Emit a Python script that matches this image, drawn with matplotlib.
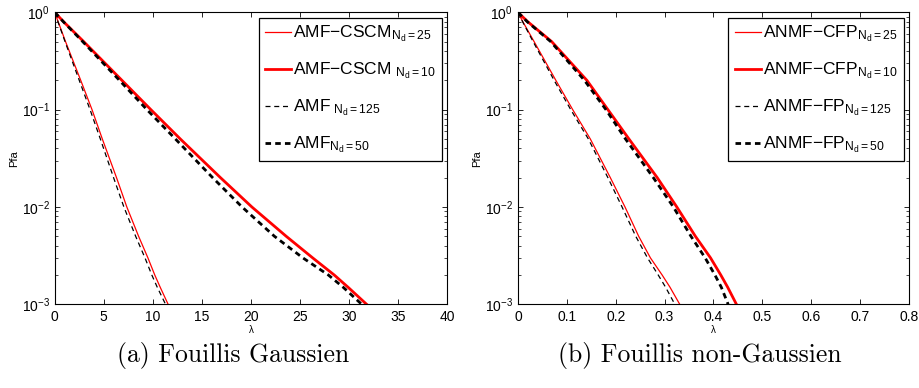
import matplotlib
matplotlib.use("Agg")
import matplotlib.pyplot as plt
import numpy as np

plt.rcParams['font.family'] = ['Liberation Sans', 'DejaVu Sans']
plt.rcParams['mathtext.fontset'] = 'custom'
plt.rcParams['mathtext.rm'] = 'Liberation Sans'
plt.rcParams['mathtext.it'] = 'Liberation Sans:italic'
plt.rcParams['mathtext.bf'] = 'Liberation Sans:bold'

pfa = [1.0, 0.8, 0.5, 0.2, 0.1, 0.05, 0.02, 0.01, 0.005, 0.003, 0.002, 0.0015, 0.001]

# (a) Gaussian clutter
lam_a_cscm25 = [0, 0.35, 1.1, 2.65, 3.8, 4.85, 6.3, 7.35, 8.55, 9.5, 10.2, 10.75, 11.56]
lam_a_cscm10 = [0, 0.9, 2.95, 6.85, 9.8, 12.8, 16.9, 20.1, 23.6, 26.3, 28.5, 29.9, 31.8]
lam_a_amf125 = [0, 0.33, 1.05, 2.5, 3.6, 4.65, 6.0, 7.05, 8.25, 9.2, 9.9, 10.45, 11.3]
lam_a_amf50 = [0, 0.88, 2.85, 6.6, 9.4, 12.3, 16.1, 19.1, 22.4, 25.3, 27.9, 29.4, 31.3]

# (b) non-Gaussian clutter
lam_b_cfp25 = [0, 0.01, 0.033, 0.0775, 0.112, 0.148, 0.189, 0.219, 0.247, 0.271, 0.295, 0.311, 0.331]
lam_b_cfp10 = [0, 0.02, 0.069, 0.141, 0.184, 0.227, 0.285, 0.325, 0.363, 0.394, 0.415, 0.429, 0.447]
lam_b_fp125 = [0, 0.0095, 0.031, 0.074, 0.108, 0.144, 0.184, 0.213, 0.241, 0.265, 0.287, 0.302, 0.321]
lam_b_fp50 = [0, 0.019, 0.067, 0.136, 0.180, 0.220, 0.277, 0.318, 0.354, 0.383, 0.403, 0.416, 0.430]

labels_a = ['AMF\u2212CSCM$_{\\mathregular{N_d=25}}$', 'AMF\u2212CSCM$\\;_{\\mathregular{N_d=10}}$',
            'AMF$\\;_{\\mathregular{N_d=125}}$', 'AMF$_{\\mathregular{N_d=50}}$']
labels_b = ['ANMF\u2212CFP$_{\\mathregular{N_d=25}}$', 'ANMF\u2212CFP$_{\\mathregular{N_d=10}}$',
            'ANMF\u2212FP$_{\\mathregular{N_d=125}}$', 'ANMF\u2212FP$_{\\mathregular{N_d=50}}$']

fig = plt.figure(figsize=(9.2, 3.88), dpi=100)
ax1 = fig.add_axes([0.0595, 0.2157, 0.4264, 0.7526])
ax2 = fig.add_axes([0.563, 0.2157, 0.425, 0.7526])


def draw(ax, curves, labels, xmax, xticks, xticklabels):
    styles = [dict(color='red', lw=0.9, ls='-'),
              dict(color='red', lw=2.0, ls='-'),
              dict(color='black', lw=0.9, ls=(0, (4, 3))),
              dict(color='black', lw=2.0, ls=(0, (2, 1.5)))]
    for lam, lab, st in zip(curves, labels, styles):
        ax.plot(lam, pfa, label=lab, **st)
    ax.set_yscale('log')
    ax.set_xlim(0, xmax)
    ax.set_ylim(1e-3, 1)
    ax.set_xticks(xticks)
    ax.set_xticklabels(xticklabels)
    ax.tick_params(which='both', direction='in', top=True, right=True, labelsize=10)
    ax.tick_params(which='major', length=3.5, width=0.6)
    ax.tick_params(which='minor', length=2, width=0.5)
    ax.tick_params(axis='x', pad=4)
    for s in ax.spines.values():
        s.set_linewidth(0.8)
    ax.set_ylabel('Pfa', fontsize=8, labelpad=2)
    ax.set_xlabel('\u03bb', fontsize=7, labelpad=1)
    leg = ax.legend(loc='upper right', fontsize=12.5, handlelength=1.5, handletextpad=0.15,
                    labelspacing=0.95, borderaxespad=0.3, borderpad=0.35, fancybox=False,
                    framealpha=1, edgecolor='black')
    leg.get_frame().set_linewidth(0.9)


draw(ax1, [lam_a_cscm25, lam_a_cscm10, lam_a_amf125, lam_a_amf50], labels_a, 40,
     [0, 5, 10, 15, 20, 25, 30, 35, 40], ['0', '5', '10', '15', '20', '25', '30', '35', '40'])
draw(ax2, [lam_b_cfp25, lam_b_cfp10, lam_b_fp125, lam_b_fp50], labels_b, 0.8,
     [0, 0.1, 0.2, 0.3, 0.4, 0.5, 0.6, 0.7, 0.8], ['0', '0.1', '0.2', '0.3', '0.4', '0.5', '0.6', '0.7', '0.8'])

fig.text(0.253, 0.085, '(a) Fouillis Gaussien', family='cmr10', fontsize=18.5, ha='center', va='center')
fig.text(0.761, 0.085, '(b) Fouillis non-Gaussien', family='cmr10', fontsize=18.5, ha='center', va='center')

fig.savefig('out.png', dpi=100)
